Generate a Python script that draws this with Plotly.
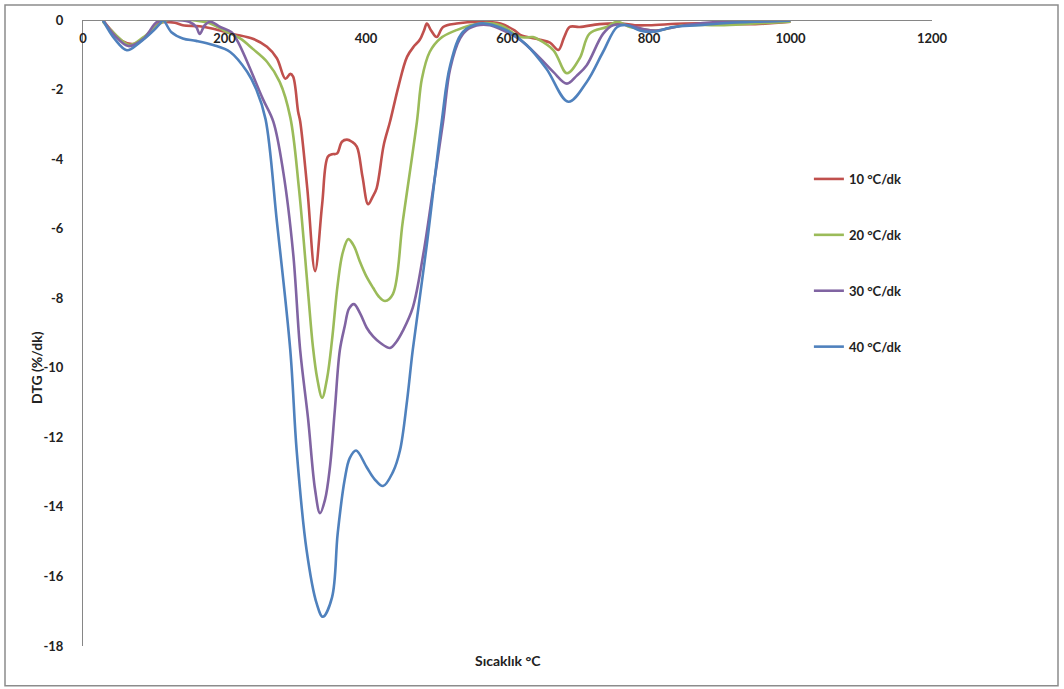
import plotly.graph_objects as go

# ---- data ----
t_red = [28, 40, 55, 71, 85, 100, 108, 130, 141, 165, 184, 212, 240, 260, 274, 286, 293, 297, 304, 307, 317, 328, 338, 346, 352, 359, 366, 373, 380, 387, 395, 403, 409, 415, 425, 434, 446, 458, 468, 476, 482, 486, 492, 500, 509, 528, 561, 590, 610, 618, 646, 660, 672, 680, 688, 702, 730, 760, 780, 800, 850, 900, 950, 1000]
y_red = [0, -0.3, -0.6, -0.69, -0.55, -0.25, -0.08, -0.08, -0.15, -0.18, -0.25, -0.4, -0.54, -0.77, -1.1, -1.69, -1.55, -1.63, -2.63, -2.92, -4.84, -7.22, -5.3, -3.93, -3.86, -3.84, -3.5, -3.44, -3.5, -3.64, -4.5, -5.3, -5.1, -4.84, -3.6, -2.92, -1.9, -1.06, -0.75, -0.57, -0.3, -0.1, -0.3, -0.49, -0.2, -0.1, -0.05, -0.1, -0.3, -0.43, -0.57, -0.65, -0.86, -0.5, -0.2, -0.2, -0.12, -0.1, -0.15, -0.15, -0.1, -0.1, -0.12, -0.05]

t_green = [28, 45, 66, 85, 105, 120, 170, 180, 203, 222, 240, 260, 278, 293, 305, 318, 325, 331, 338, 345, 352, 360, 367, 375, 383, 391, 400, 410, 418, 427, 438, 452, 472, 479, 490, 505, 528, 561, 590, 618, 636, 641, 665, 684, 702, 716, 740, 755, 773, 787, 811, 850, 900, 950, 1000]
y_green = [-0.05, -0.4, -0.72, -0.5, -0.15, 0, -0.05, -0.1, -0.34, -0.53, -0.83, -1.2, -1.78, -2.8, -4.8, -7.8, -9.4, -10.3, -10.86, -10.3, -9.2, -7.6, -6.7, -6.3, -6.5, -6.93, -7.35, -7.7, -7.95, -8.08, -7.88, -5.79, -2.92, -1.69, -0.92, -0.53, -0.29, -0.1, -0.15, -0.49, -0.49, -0.53, -0.87, -1.53, -1.1, -0.39, -0.2, -0.05, -0.2, -0.25, -0.3, -0.15, -0.15, -0.1, -0.05]

t_purple = [28, 45, 64, 85, 105, 120, 150, 160, 165, 172, 180, 194, 210, 219, 232, 254, 269, 283, 297, 307, 318, 328, 335, 342, 349, 356, 363, 370, 376, 383, 392, 401, 410, 420, 434, 443, 452, 466, 481, 495, 509, 519, 533, 545, 561, 575, 589, 618, 646, 665, 684, 698, 712, 735, 749, 770, 790, 810, 850, 900, 950, 1000]
y_purple = [0, -0.45, -0.75, -0.55, -0.05, 0, -0.05, -0.2, -0.4, -0.15, -0.05, -0.2, -0.35, -0.63, -1.2, -2.26, -2.92, -4.36, -6.7, -9.5, -11.44, -13.5, -14.18, -13.8, -12.86, -11.2, -9.5, -8.8, -8.3, -8.17, -8.45, -8.85, -9.1, -9.28, -9.43, -9.25, -8.94, -8.28, -6.73, -4.84, -2.92, -1.4, -0.53, -0.25, -0.14, -0.15, -0.25, -0.57, -1.1, -1.5, -1.83, -1.6, -1.3, -0.4, -0.15, -0.15, -0.25, -0.3, -0.15, -0.05, -0.05, 0]

t_blue = [28, 45, 62, 80, 100, 109, 113, 125, 141, 160, 184, 208, 232, 245, 258, 274, 293, 302, 316, 330, 339, 352, 360, 370, 377, 386, 401, 412, 424, 438, 448, 458, 466, 486, 507, 519, 537, 561, 580, 599, 627, 655, 686, 712, 735, 755, 769, 787, 806, 834, 870, 900, 950, 1000]
y_blue = [0, -0.55, -0.87, -0.65, -0.3, -0.1, 0, -0.35, -0.53, -0.6, -0.72, -0.92, -1.49, -2.0, -2.85, -5.79, -9.5, -12.38, -15.24, -16.76, -17.16, -16.6, -14.76, -13.2, -12.6, -12.38, -12.86, -13.2, -13.4, -13.0, -12.38, -10.95, -9.5, -6.45, -2.92, -1.3, -0.34, -0.1, -0.15, -0.3, -0.72, -1.4, -2.35, -1.78, -0.92, -0.2, -0.15, -0.3, -0.34, -0.2, -0.15, -0.1, -0.05, -0.02]

series_names = ["10 °C/dk", "20 °C/dk", "30 °C/dk", "40 °C/dk"]
series_colors = ["#C0504D", "#9BBB59", "#8064A2", "#4F81BD"]
x_ticks = [0, 200, 400, 600, 800, 1000, 1200]
y_ticks = [0, -2, -4, -6, -8, -10, -12, -14, -16, -18]
y_tick_labels = ["0", "-2", "-4", "-6", "-8", "-10", "-12", "-14", "-16", "-18"]

FONT = "Lato"
fig = go.Figure()
for i, (t, y) in enumerate([(t_red, y_red), (t_green, y_green), (t_purple, y_purple), (t_blue, y_blue)]):
    fig.add_trace(go.Scatter(
        x=t, y=y, mode="lines", name=series_names[i], legendgroup=f"g{i}",
        line=dict(color=series_colors[i], width=2.6, shape="spline", smoothing=1.0),
    ))

fig.update_layout(
    width=1064, height=689,
    margin=dict(l=83, r=132, t=18, b=43),
    paper_bgcolor="white", plot_bgcolor="white",
    font=dict(family=FONT, size=13, color="#222", weight="bold"),
    showlegend=True,
    legend=dict(x=0.855, y=0.77, xanchor="left", yanchor="top",
                tracegroupgap=36, bgcolor="rgba(0,0,0,0)",
                font=dict(family=FONT, size=13, color="#222", weight="bold")),
    xaxis=dict(range=[0, 1200], tickvals=x_ticks, side="bottom",
               anchor="free", position=1.0,
               showgrid=False, zeroline=False,
               showline=True, linecolor="#868686", linewidth=1, ticks="",
               ticklabelstandoff=6),
    yaxis=dict(range=[-18, 0], tickvals=y_ticks, ticktext=y_tick_labels,
               showgrid=False, zeroline=False,
               showline=True, linecolor="#868686", linewidth=1, ticks="",
               ticklabelstandoff=16),
)

# axis titles
fig.add_annotation(text="DTG (%/dk)", xref="paper", yref="paper",
                   x=(37 - 83) / 849, y=1 - (367 - 18) / 628, showarrow=False,
                   textangle=-90, xanchor="center", yanchor="middle",
                   font=dict(family=FONT, size=14, weight="bold", color="#222"))
fig.add_annotation(text="Sıcaklık °C", xref="paper", yref="paper",
                   x=(508 - 83) / 849, y=-(661 - 646) / 628, showarrow=False,
                   xanchor="center", yanchor="middle",
                   font=dict(family=FONT, size=14, weight="bold", color="#222"))

# outer chart frame
fig.add_shape(type="rect", xref="paper", yref="paper",
              x0=(5 - 83) / 849, x1=(1058 - 83) / 849,
              y0=1 - (686 - 18) / 628, y1=1 + (18 - 3) / 628,
              line=dict(color="#8c8c8c", width=1.5), fillcolor="rgba(0,0,0,0)",
              layer="below")

fig.write_html("out.html")
